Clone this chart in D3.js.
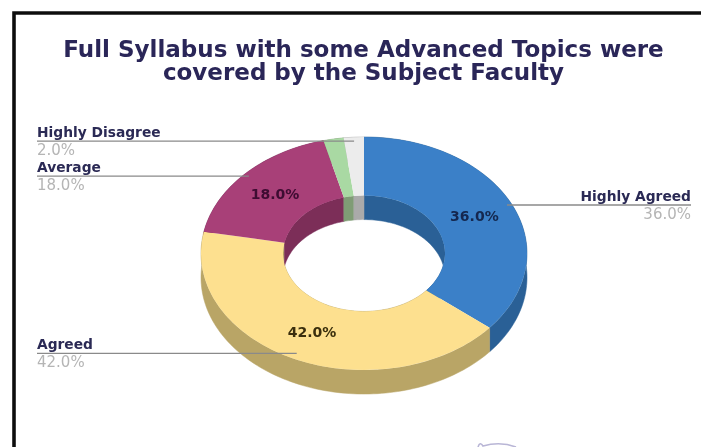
<!DOCTYPE html>
<html><head><meta charset="utf-8">
<script src="https://cdn.jsdelivr.net/npm/d3@7"></script>
<style>html,body{margin:0;padding:0;background:#fff;overflow:hidden}svg{display:block}text{font-family:"DejaVu Sans",sans-serif}</style>
</head><body><svg id="c" width="701" height="447"></svg>
<script>
const titleLines = ["Full Syllabus with some Advanced Topics were","covered by the Subject Faculty"];
const categories = ["Highly Agreed","Agreed","Average","","Highly Disagree"];
const values = [36,42,18,2,2];
const topColors = ["#3a80c8","#fde08f","#a83f78","#a9d9a3","#ececec"];
const sideColors = ["#2a6096","#b9a566","#7b2d58","#7f9c74","#aaaaaa"];
const labelColors = ["#14284f","#3a2f0c","#3d0a30","#222","#222"];

const W=701,H=447,cx=364,cy=253.5,rx=163,inner=81,squash=0.715,depth=24;
const svg=d3.select("#c");
const defs=svg.append("defs");
defs.append("filter").attr("id","soft").attr("x","-5%").attr("y","-5%").attr("width","110%").attr("height","110%")
  .append("feGaussianBlur").attr("stdDeviation",0.55);
const root=svg.append("g").attr("filter","url(#soft)");
root.append("rect").attr("width",W).attr("height",H).attr("fill","#fff");
root.append("path").attr("d",`M14 ${H}V13H${W}`).attr("fill","none").attr("stroke","#111").attr("stroke-width",3.6);

const title=root.append("text").attr("text-anchor","middle").attr("font-size",23).attr("font-weight","bold").attr("fill","#2a2558");
titleLines.forEach((t,i)=>title.append("tspan").attr("x",363.5).attr("y",57+i*23).text(t));

const pie=d3.pie().sort(null).value(d=>d)(values);
const px=(r,a)=>cx+r*Math.sin(a), py=(r,a)=>cy-r*squash*Math.cos(a);
const line=d3.line();
function ribbon(r,d){
  const n=Math.max(2,Math.ceil((d.endAngle-d.startAngle)*40));
  const as=d3.range(n+1).map(i=>d.startAngle+(d.endAngle-d.startAngle)*i/n);
  const up=as.map(a=>[px(r,a),py(r,a)]);
  const dn=as.slice().reverse().map(a=>[px(r,a),py(r,a)+depth]);
  return line(up.concat(dn))+"Z";
}
const donut=root.append("g");
donut.selectAll("path.side").data(pie).join("path").attr("class","side")
  .attr("d",d=>ribbon(inner,d)+ribbon(rx,d))
  .attr("fill",(d,i)=>sideColors[i]).attr("stroke",(d,i)=>sideColors[i]).attr("stroke-width",.5);
const arc=d3.arc().innerRadius(inner).outerRadius(rx);
donut.append("g").attr("transform",`translate(${cx},${cy}) scale(1,${squash})`)
  .selectAll("path").data(pie).join("path").attr("d",arc)
  .attr("fill",(d,i)=>topColors[i]);

const mid=d=>(d.startAngle+d.endAngle)/2;
donut.selectAll("text.pct").data(pie.filter((d,i)=>categories[i]&&values[i]>2)).join("text").attr("class","pct")
  .attr("x",d=>px(122,mid(d))).attr("y",d=>py(122,mid(d))+5)
  .attr("text-anchor","middle").attr("font-size",14).attr("font-weight","bold")
  .attr("fill",d=>labelColors[d.index]).text(d=>d3.format(".1f")(d.value)+"%");

const leaders=root.append("g");
pie.forEach((d,i)=>{
  if(!categories[i])return;
  const a=mid(d),x=px(158,a),y=py(156,a),right=Math.sin(a)>0,tx=right?691:37,anc=right?"end":"start";
  leaders.append("line").attr("x1",x).attr("y1",y-1).attr("x2",tx).attr("y2",y-1).attr("stroke","#8a8a8a").attr("stroke-width",1.3);
  leaders.append("text").attr("x",tx).attr("y",y-5).attr("text-anchor",anc).attr("font-size",13.8).attr("font-weight","bold").attr("fill","#2c2a55").text(categories[i]);
  leaders.append("text").attr("x",tx).attr("y",y+12.5).attr("text-anchor",anc).attr("font-size",15).attr("fill","#b5b5b5").text(d3.format(".1f")(d.value)+"%");
});
root.append("path").attr("d","M478 447Q480 441 483 446Q500 441 516 447").attr("fill","none").attr("stroke","#b9b6d6").attr("stroke-width",1.6);
</script></body></html>
